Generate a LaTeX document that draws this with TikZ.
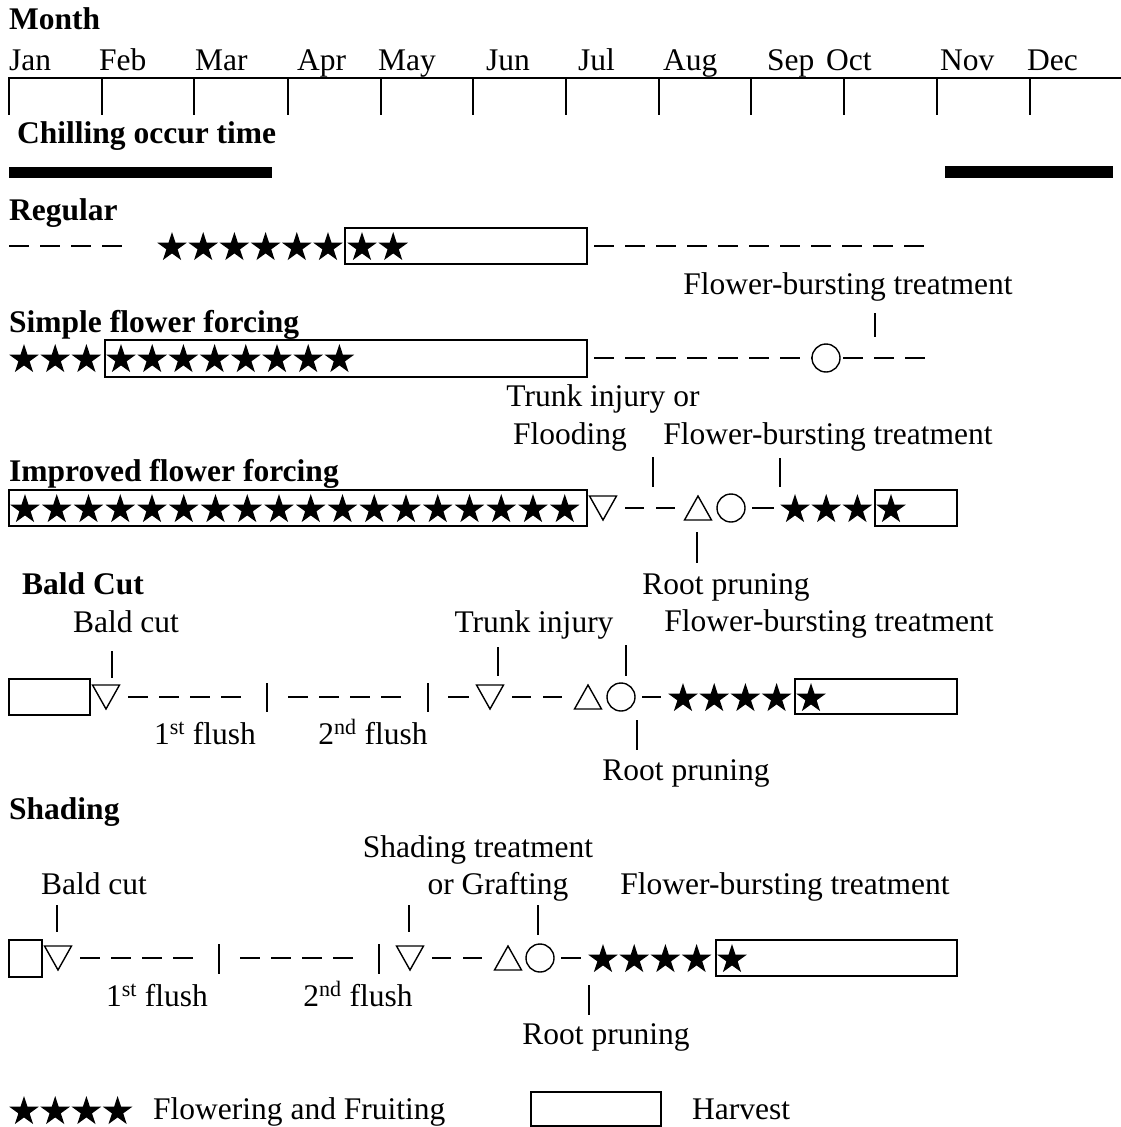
\documentclass[tikz,border=0pt]{standalone}
\usepackage{fontspec}
\setmainfont{Liberation Serif}
\usetikzlibrary{shapes.geometric}
\tikzset{
  txt/.style={inner sep=0pt, anchor=base},
  txtl/.style={inner sep=0pt, anchor=base west},
  head/.style={inner sep=0pt, anchor=base west, font=\fontsize{31.5}{36}\selectfont\bfseries},
  thinln/.style={line width=1.4pt},
  dsh/.style={line width=1.4pt, dash pattern=on 20pt off 11pt},
  hbox/.style={line width=1.8pt},
  fstar/.pic={\fill[black] (-90:15.5) \foreach \k in {1,...,9}{ -- ({-90+36*\k}:{ifthenelse(isodd(\k),5.92,15.5)})} -- cycle;},
  tdown/.pic={\draw[line width=1.4pt] (-13.5,-12) -- (13.5,-12) -- (0,12) -- cycle;},
  tup/.pic={\draw[line width=1.4pt] (0,-12) -- (13.5,12) -- (-13.5,12) -- cycle;},
  circ/.pic={\draw[line width=1.4pt] (0,0) circle (14);},
}
\newcommand\starrow[4]{\foreach \i in {1,...,#3}{\pic at ({#1+(\i-1)*#4},{#2+1.5}) {fstar};}}
\begin{document}
\begin{tikzpicture}[x=1pt,y=-1pt,font=\fontsize{31.5}{36}\selectfont]
\useasboundingbox (0,0) rectangle (1121,1127);
% ---------- header ----------
\node[head] (month) at (9,29) {Month};
\foreach \n/\lx/\tx in {jan/Jan/9, feb/Feb/99, mar/Mar/195, apr/Apr/297, may/May/378, jun/Jun/486, jul/Jul/578, aug/Aug/663, sep/Sep/767, oct/Oct/826, nov/Nov/940, dec/Dec/1027}
  \node[txtl] (m\n) at (\tx,70) {\lx};
\draw[thinln] (8,78) -- (1121,78);
\foreach \t in {9,102,194,288,381,473,566,659,751,844,937,1030}
  \draw[thinln] (\t,78) -- (\t,115);
\node[head] (chill) at (17,143) {Chilling occur time};
\fill (9,167) rectangle (272,178);
\fill (945,166) rectangle (1113,178);
% ---------- Regular ----------
\node[head] (reg) at (9,220) {Regular};
\draw[dsh] (9,246) -- (130,246);
\starrow{172}{246}{6}{31.2}
\draw[hbox] (345,228) rectangle (587,264);
\starrow{362}{246}{2}{31.2}
\draw[dsh] (594,246) -- (935,246);
% ---------- Simple flower forcing ----------
\node[txt] (fb1) at (848,294) {Flower-bursting treatment};
\node[head] (simple) at (9,332) {Simple flower forcing};
\starrow{24}{358}{3}{31.2}
\draw[hbox] (105,340) rectangle (587,377);
\starrow{121}{358}{8}{31.2}
\draw[dsh] (594,358) -- (812,358);
\pic at (826,358) {circ};
\draw[dsh] (843,358) -- (935,358);
\draw[thinln] (875,313) -- (875,337);
% ---------- Improved flower forcing ----------
\node[txt] (trunk1) at (603,406) {Trunk injury or};
\node[txt] (flood) at (570,444) {Flooding};
\node[txt] (fb2) at (828,444) {Flower-bursting treatment};
\node[head] (improved) at (9,481) {Improved flower forcing};
\draw[hbox] (9,490) rectangle (587,526);
\starrow{25}{508}{18}{31.75}
\pic at (603,508) {tdown};
\draw[dsh, dash pattern=on 19pt off 12pt] (625,508) -- (675,508);
\pic at (698,508) {tup};
\pic at (731,508) {circ};
\draw[thinln] (752,508) -- (774,508);
\starrow{795}{508}{3}{31.2}
\draw[hbox] (875,490) rectangle (957,526);
\starrow{891}{508}{1}{31.2}
\draw[thinln] (653,457) -- (653,487);
\draw[thinln] (780,458) -- (780,487);
\draw[thinln] (697,532) -- (697,563);
\node[txt] (root1) at (726,594) {Root pruning};
% ---------- Bald Cut ----------
\node[head] (bald) at (22,594) {Bald Cut};
\node[txt] (bc1) at (126,632) {Bald cut};
\node[txt] (trunk2) at (534,632) {Trunk injury};
\node[txt] (fb3) at (829,631) {Flower-bursting treatment};
\draw[hbox] (9,679) rectangle (90,715);
\pic at (106,697) {tdown};
\draw[dsh] (128,697) -- (246,697);
\draw[thinln] (267,683) -- (267,712);
\draw[dsh] (288,697) -- (408,697);
\draw[thinln] (428,683) -- (428,712);
\draw[thinln] (448,697) -- (469,697);
\pic at (490,697) {tdown};
\draw[dsh, dash pattern=on 19pt off 12pt] (512,697) -- (565,697);
\pic at (588,697) {tup};
\pic at (621,697) {circ};
\draw[thinln] (642,697) -- (661,697);
\starrow{683}{697}{4}{31.2}
\draw[hbox] (795,679) rectangle (957,714);
\starrow{811}{697}{1}{31.2}
\draw[thinln] (112,651) -- (112,678);
\draw[thinln] (498,647) -- (498,676);
\draw[thinln] (626,645) -- (626,676);
\draw[thinln] (637,720) -- (637,750);
\node[txt] (f1a) at (205,744) {1\textsuperscript{st} flush};
\node[txt] (f2a) at (373,744) {2\textsuperscript{nd} flush};
\node[txt] (root2) at (686,780) {Root pruning};
% ---------- Shading ----------
\node[head] (shading) at (9,819) {Shading};
\node[txt] (shtr) at (478,857) {Shading treatment};
\node[txt] (graft) at (498,894) {or Grafting};
\node[txt] (bc2) at (94,894) {Bald cut};
\node[txt] (fb4) at (785,894) {Flower-bursting treatment};
\draw[hbox] (9,940) rectangle (42,977);
\pic at (58,958) {tdown};
\draw[dsh] (80,958) -- (200,958);
\draw[thinln] (219,944) -- (219,974);
\draw[dsh] (240,958) -- (360,958);
\draw[thinln] (379,944) -- (379,974);
\pic at (410,958) {tdown};
\draw[dsh, dash pattern=on 19pt off 12pt] (432,958) -- (483,958);
\pic at (508,958) {tup};
\pic at (540,958) {circ};
\draw[thinln] (561,958) -- (581,958);
\starrow{603}{958}{4}{31.2}
\draw[hbox] (716,940) rectangle (957,976);
\starrow{732}{958}{1}{31.2}
\draw[thinln] (57,905) -- (57,932);
\draw[thinln] (409,905) -- (409,932);
\draw[thinln] (538,905) -- (538,935);
\draw[thinln] (589,985) -- (589,1015);
\node[txt] (f1b) at (157,1006) {1\textsuperscript{st} flush};
\node[txt] (f2b) at (358,1006) {2\textsuperscript{nd} flush};
\node[txt] (root3) at (606,1044) {Root pruning};
% ---------- legend ----------
\starrow{24}{1110}{4}{31.2}
\node[txtl] (legf) at (153,1119) {Flowering and Fruiting};
\draw[hbox] (531,1092) rectangle (661,1126);
\node[txtl] (legh) at (692,1119) {Harvest};
\end{tikzpicture}
\end{document}
